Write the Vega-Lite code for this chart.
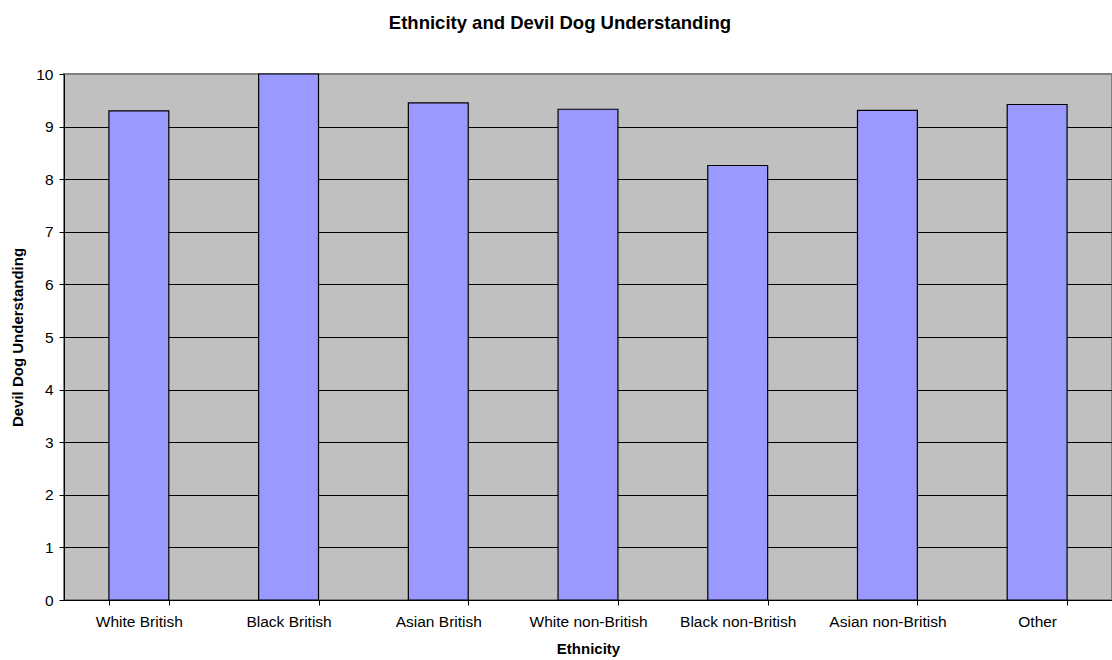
{
  "$schema": "https://vega.github.io/schema/vega-lite/v6.json",
  "width": 1048,
  "height": 526,
  "autosize": {"type": "none"},
  "padding": {"left": 64, "top": 74, "right": 0, "bottom": 60},
  "background": "white",
  "title": {
    "text": "Ethnicity and Devil Dog Understanding",
    "font": "Liberation Sans",
    "fontSize": 18.5,
    "fontWeight": "bold",
    "color": "black",
    "anchor": "middle",
    "dx": -28,
    "offset": 35
  },
  "data": {
    "values": [
      {"ethnicity": "White British", "value": 9.30},
      {"ethnicity": "Black British", "value": 10.0},
      {"ethnicity": "Asian British", "value": 9.45},
      {"ethnicity": "White non-British", "value": 9.33},
      {"ethnicity": "Black non-British", "value": 8.26},
      {"ethnicity": "Asian non-British", "value": 9.31},
      {"ethnicity": "Other", "value": 9.42}
    ]
  },
  "config": {
    "view": {"fill": "#C0C0C0", "stroke": "#808080", "strokeWidth": 2},
    "axis": {
      "labelFont": "Liberation Sans",
      "titleFont": "Liberation Sans",
      "labelColor": "black",
      "titleColor": "black",
      "domainColor": "black",
      "tickColor": "black",
      "labelFontSize": 15.5,
      "titleFontSize": 15,
      "titleFontWeight": "bold"
    }
  },
  "mark": {"type": "bar", "fill": "#9999FF", "stroke": "black", "strokeWidth": 1.2},
  "encoding": {
    "x": {
      "field": "ethnicity",
      "type": "nominal",
      "sort": null,
      "title": "Ethnicity",
      "scale": {"paddingInner": 0.6, "paddingOuter": 0.3},
      "axis": {
        "labelAngle": 0,
        "tickBand": "extent",
        "tickSize": 5,
        "labelPadding": 9,
        "titlePadding": 12,
        "grid": false
      }
    },
    "y": {
      "field": "value",
      "type": "quantitative",
      "title": "Devil Dog Understanding",
      "scale": {"domain": [0, 10], "nice": false},
      "axis": {
        "values": [0, 1, 2, 3, 4, 5, 6, 7, 8, 9, 10],
        "tickSize": 5,
        "labelPadding": 6,
        "titlePadding": 10,
        "grid": true,
        "gridColor": {"condition": {"test": "datum.value == 10", "value": "#808080"}, "value": "black"},
        "gridOpacity": 1
      }
    }
  }
}
